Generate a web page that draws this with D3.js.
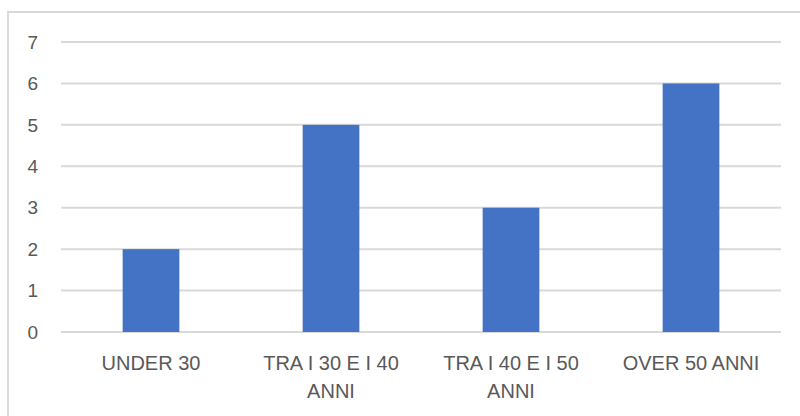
<!DOCTYPE html>
<html>
<head>
<meta charset="utf-8">
<script src="https://cdn.jsdelivr.net/npm/d3@7"></script>
<style>
body { margin: 0; background: #fff; }
text { font-family: "Liberation Sans", Arial, sans-serif; fill: #595959; }
</style>
</head>
<body>
<div class="box"></div>
<script>
var categories = ["UNDER 30", "TRA I 30 E I 40 ANNI", "TRA I 40 E I 50 ANNI", "OVER 50 ANNI"];
var values = [2, 5, 3, 6];
var yTicks = [0, 1, 2, 3, 4, 5, 6, 7];

var width = 800, height = 416;
var plotLeft = 61, plotRight = 781, plotTop = 42, plotBottom = 332;

var svg = d3.select(".box").append("svg").attr("width", width).attr("height", height);

// chart frame
svg.append("rect").attr("x", 8).attr("y", 12).attr("width", 800).attr("height", 420)
  .attr("fill", "none").attr("stroke", "#d9d9d9").attr("stroke-width", 2);

var x = d3.scaleBand().domain(categories).range([plotLeft, plotRight])
  .paddingInner(0.685).paddingOuter(0.3425);
var y = d3.scaleLinear().domain([0, 7]).range([plotBottom, plotTop]);

// gridlines
svg.selectAll(".grid").data(yTicks).enter().append("line")
  .attr("x1", plotLeft).attr("x2", plotRight)
  .attr("y1", function(d){ return y(d); }).attr("y2", function(d){ return y(d); })
  .attr("stroke", "#d9d9d9").attr("stroke-width", 2);

// y labels
svg.selectAll(".ylab").data(yTicks).enter().append("text")
  .attr("x", 38).attr("y", function(d){ return y(d); })
  .attr("dy", "0.35em").attr("text-anchor", "end")
  .style("font-size", "19px")
  .text(function(d){ return d; });

// bars
svg.selectAll(".bar").data(values).enter().append("rect")
  .attr("x", function(d,i){ return x(categories[i]); })
  .attr("width", x.bandwidth())
  .attr("y", function(d){ return y(d); })
  .attr("height", function(d){ return y(0) - y(d); })
  .attr("fill", "#4472C4");

// x labels, wrapped
categories.forEach(function(c) {
  var cx = x(c) + x.bandwidth() / 2;
  var t = svg.append("text").attr("text-anchor", "middle").style("font-size", "20px");
  var words = c.split(" "), line = [], lines = [];
  var tmp = t.append("tspan");
  words.forEach(function(w) {
    line.push(w);
    tmp.text(line.join(" "));
    if (tmp.node().getComputedTextLength() > 160 && line.length > 1) {
      line.pop();
      lines.push(line.join(" "));
      line = [w];
    }
  });
  lines.push(line.join(" "));
  tmp.remove();
  lines.forEach(function(l, k) {
    t.append("tspan").attr("x", cx).attr("y", 370 + k * 28).text(l);
  });
});
</script>
</body>
</html>
